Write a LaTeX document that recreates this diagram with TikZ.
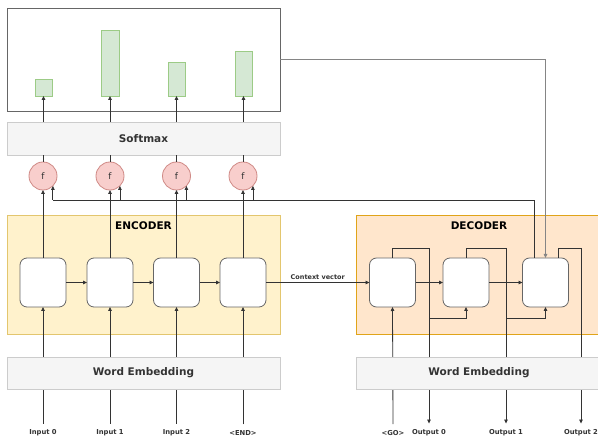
\documentclass[tikz,border=0pt]{standalone}
\usepackage{fontspec}
\setmainfont{DejaVu Sans}
\usetikzlibrary{arrows.meta}
\definecolor{linec}{HTML}{333333}
\definecolor{barfill}{HTML}{D5E8D4}
\definecolor{barline}{HTML}{9CCB86}
\definecolor{ffill}{HTML}{F8CECC}
\definecolor{fline}{HTML}{D08A86}
\definecolor{encfill}{HTML}{FFF2CC}
\definecolor{encline}{HTML}{E3C66E}
\definecolor{decfill}{HTML}{FFE6CC}
\definecolor{decline}{HTML}{E0A419}
\definecolor{greyfill}{HTML}{F5F5F5}
\definecolor{greyline}{HTML}{CCCCCC}
\definecolor{txt}{HTML}{333333}
\tikzset{
  wire/.style={draw=linec, line width=0.8pt},
  arr/.style={wire, -{Triangle[length=4pt,width=3.5pt]}},
  bar/.style={draw=barline, fill=barfill, line width=0.8pt, inner sep=0pt, outer sep=0pt},
  fnode/.style={circle, draw=fline, fill=ffill, line width=0.8pt, minimum size=28pt, inner sep=0pt, outer sep=0pt, font=\fontsize{9}{10}\selectfont, text=txt},
  panel/.style={draw=greyline, fill=greyfill, line width=0.8pt, inner sep=0pt, outer sep=0pt, font=\bfseries\fontsize{10.5}{12}\selectfont, text=txt},
  cell/.style={draw=linec!75, fill=white, rounded corners=7pt, line width=0.8pt, minimum width=46pt, minimum height=49pt, inner sep=0pt, outer sep=0pt},
  lbl/.style={font=\bfseries\fontsize{6.8}{8}\selectfont, text=txt, inner ysep=6pt, inner xsep=0pt},
  title/.style={font=\bfseries\fontsize{10.5}{12}\selectfont, text=black}
}
\begin{document}
\begin{tikzpicture}[x=1pt,y=-1pt]
\useasboundingbox (0,0) rectangle (598,441);
\clip (0,0) rectangle (598,441);
\fill[white] (0,0) rectangle (598,441);

% attention output panel with its bars
\node[draw=linec!75, line width=0.9pt, minimum width=273pt, minimum height=103pt, inner sep=0pt, outer sep=0pt] (att) at (143.5,59.5) {};
\node[bar, minimum width=17pt, minimum height=17pt] (b1) at (43.5,87.5) {};
\node[bar, minimum width=18pt, minimum height=66pt] (b2) at (110,63) {};
\node[bar, minimum width=17pt, minimum height=34pt] (b3) at (176.5,79) {};
\node[bar, minimum width=17pt, minimum height=45pt] (b4) at (243.5,73.5) {};

% encoder and decoder frames
\node[draw=encline, fill=encfill, line width=0.9pt, minimum width=273pt, minimum height=119pt, inner sep=0pt] (enc) at (143.5,274.5) {};
\node[draw=decline, fill=decfill, line width=0.9pt, minimum width=246pt, minimum height=119pt, inner sep=0pt] (dec) at (479,274.5) {};
\node[title] (enct) at (143.5,226) {ENCODER};
\node[title] (dect) at (479,226) {DECODER};

% softmax layer
\node[panel, minimum width=273pt, minimum height=33pt] (sm) at (143.5,138.5) {Softmax};

% score functions
\node[fnode] (f1) at (43,176) {f};
\node[fnode] (f2) at (110,176) {f};
\node[fnode] (f3) at (176.5,176) {f};
\node[fnode] (f4) at (243,176) {f};

% recurrent cells
\node[cell] (e1) at (43,282.5) {};
\node[cell] (e2) at (110,282.5) {};
\node[cell] (e3) at (176.5,282.5) {};
\node[cell] (e4) at (243,282.5) {};
\node[cell] (d1) at (392.5,282.5) {};
\node[cell] (d2) at (466,282.5) {};
\node[cell] (d3) at (545.5,282.5) {};

% token labels
\node[lbl] (i0) at (43,433) {Input 0};
\node[lbl] (i1) at (110,433) {Input 1};
\node[lbl] (i2) at (176.5,433) {Input 2};
\node[lbl] (iend) at (243,433) {<END>};
\node[lbl] (go) at (393,433) {<GO>};
\node[lbl] (o0) at (429,433) {Output 0};
\node[lbl] (o1) at (506,433) {Output 1};
\node[lbl] (o2) at (581,433) {Output 2};

% helper points
\coordinate (bus) at (0,200);
\coordinate (loop) at (0,248);
\coordinate (fb) at (0,318);
\coordinate (h3) at (534,258);

% softmax to bars, scores to softmax
\foreach \i in {1,2,3,4}{
  \draw[arr] (sm.north -| b\i.south) -- (b\i.south);
  \draw[wire] (f\i.north) -- (sm.south -| f\i.north);
}

% encoder states to score functions
\foreach \i in {1,2,3,4}{
  \draw[arr] (e\i.north) -- (f\i.south);
}

% encoder recurrence
\draw[arr] (e1.east) -- (e2.west);
\draw[arr] (e2.east) -- (e3.west);
\draw[arr] (e3.east) -- (e4.west);

% inputs through the embedding
\draw[arr] (i0.north) -- (e1.south);
\draw[arr] (i1.north) -- (e2.south);
\draw[arr] (i2.north) -- (e3.south);
\draw[arr] (iend.north) -- (e4.south);
\draw[arr] (go.north) -- (d1.south);

% context vector
\draw[arr] (e4.east) -- node[above=2.5pt, font=\bfseries\fontsize{6.5}{8}\selectfont, text=txt, inner sep=0pt] {Context vector} (d1.west);

% decoder recurrence
\draw[arr] (d1.east) -- (d2.west);
\draw[arr] (d2.east) -- (d3.west);

% decoder outputs fed back
\draw[arr] (d1.north) -- (d1.north |- loop) -| (o0.north);
\draw[arr] (o0.north |- fb) -| (d2.south);
\draw[arr] (d2.north) -- (d2.north |- loop) -| (o1.north);
\draw[arr] (o1.north |- fb) -| (d3.south);
\draw[arr] ([xshift=12.5pt]d3.north) -- ([xshift=12.5pt]d3.north |- loop) -| (o2.north);

% decoder state to the score functions
\draw[wire] (h3) -- (h3 |- bus) -- (f1.south east |- bus);
\foreach \i in {1,2,3,4}{
  \draw[arr] (f\i.south east |- bus) -- (f\i.south east);
}

% attention result into the decoder
\draw[arr, draw=linec!60] (att.east) -| (d3.north);

% embedding layers
\node[panel, minimum width=273pt, minimum height=32pt] (we1) at (143.5,373) {Word Embedding};
\node[panel, minimum width=246pt, minimum height=32pt] (we2) at (479,373) {Word Embedding};
\end{tikzpicture}
\end{document}
